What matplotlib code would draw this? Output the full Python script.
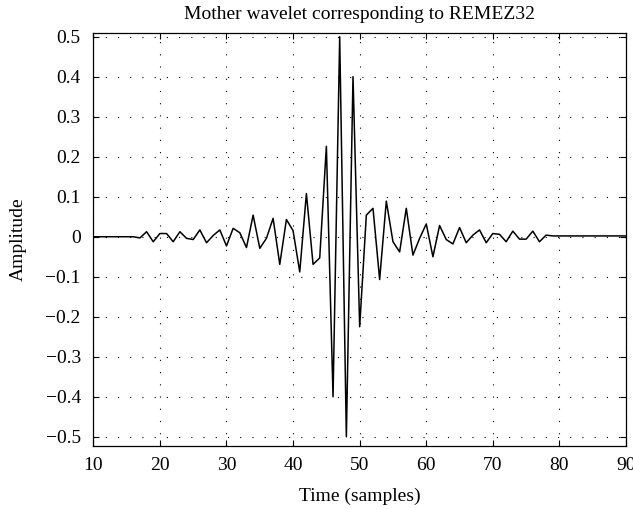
import numpy as np
import matplotlib
matplotlib.use('Agg')
import matplotlib.pyplot as plt

plt.rcParams['font.family'] = ['Liberation Serif', 'DejaVu Serif']

# samples of the wavelet (time index -> amplitude)
time = np.arange(10, 91)
amp_left = [0, 0, 0, 0, 0, 0, 0,                      # 10..16
            -0.003, 0.0125, -0.0125, 0.008, 0.008,     # 17..21
            -0.0125, 0.0125, -0.004, -0.007, 0.017,    # 22..26
            -0.015, 0.003, 0.017, -0.023, 0.021,       # 27..31
            0.01, -0.027, 0.054, -0.029, -0.004,       # 32..36
            0.046, -0.069, 0.043, 0.015, -0.088,       # 37..41
            0.108, -0.069, -0.053, 0.226, -0.4, 0.5]   # 42..47
amp_right = [-0.5, 0.4, -0.225, 0.054, 0.071,          # 48..52
             -0.107, 0.089, -0.0125, -0.038, 0.071,    # 53..57
             -0.046, -0.004, 0.032, -0.05, 0.028,      # 58..62
             -0.007, -0.018, 0.023, -0.015, 0.004,     # 63..67
             0.017, -0.015, 0.008, 0.006, -0.0125,     # 68..72
             0.014, -0.006, -0.006, 0.014, -0.0125,    # 73..77
             0.004, 0.002, 0.002, 0.002, 0.002, 0.002,  # 78..83
             0.002, 0.002, 0.002, 0.002, 0.002, 0.002, 0.002]  # 84..90
amplitude = np.array(amp_left + amp_right)

xticks = np.arange(10, 91, 10)
yticks = np.round(np.arange(-0.5, 0.51, 0.1), 1)
ytick_labels = ['\u22120.5', '\u22120.4', '\u22120.3', '\u22120.2', '\u22120.1',
                '0', '0.1', '0.2', '0.3', '0.4', '0.5']

fig = plt.figure(figsize=(6.33, 5.09), dpi=100)
ax = fig.add_axes([0.1474, 0.1238, 0.8416, 0.812])
ax.plot(time, amplitude, color='black', linewidth=1.1)

ax.set_xlim(10, 90)
ax.set_ylim(-0.523, 0.51)
ax.set_xticks(xticks)
ax.set_yticks(yticks)
ax.set_yticklabels(ytick_labels)
ax.tick_params(direction='in', top=True, right=True, length=4, width=0.8,
               labelsize=14, colors='black')
ax.tick_params(axis='y', pad=9)
ax.tick_params(axis='x', pad=8)
ax.grid(True, color='black', linewidth=0.8, linestyle=(0, (1, 10)))
for s in ax.spines.values():
    s.set_linewidth(0.9)

ax.set_title('Mother wavelet corresponding to REMEZ32', fontsize=14, pad=10)
ax.set_xlabel('Time (samples)', fontsize=14)
ax.set_ylabel('Amplitude', fontsize=14)
ax.xaxis.set_label_coords(0.5, -0.1)
ax.yaxis.set_label_coords(-0.124, 0.5)

fig.savefig('out.png', dpi=100)
